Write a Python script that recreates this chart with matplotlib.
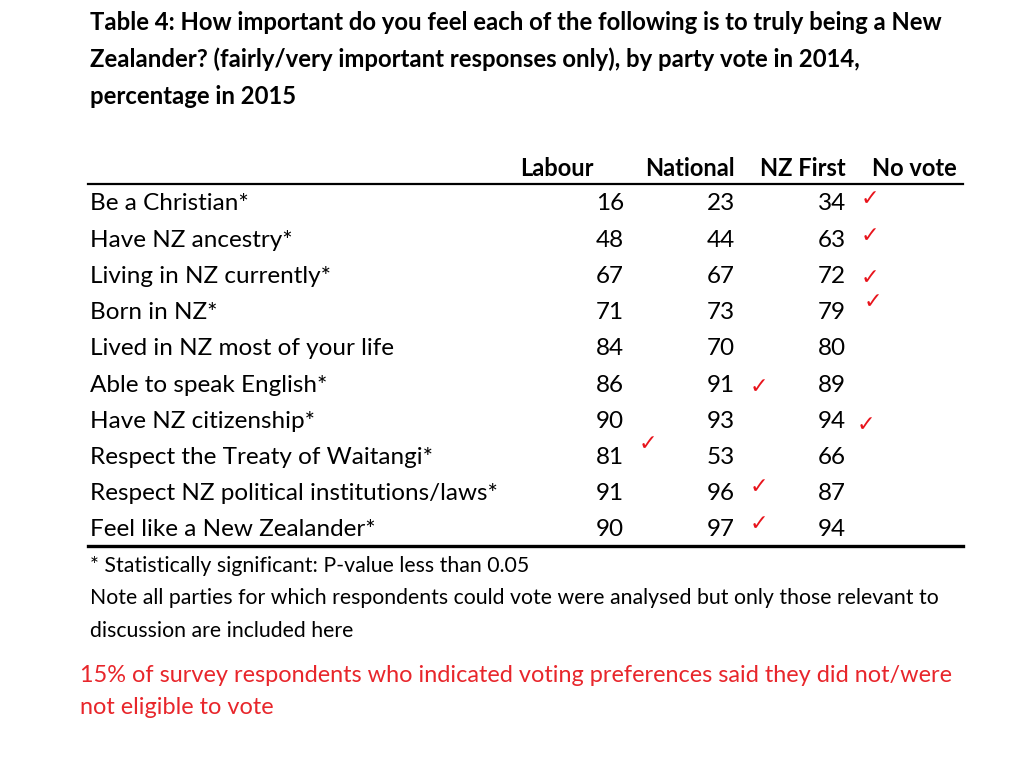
import matplotlib
matplotlib.use("Agg")
import matplotlib.pyplot as plt

plt.rcParams['font.family'] = ['Lato', 'DejaVu Sans']

title_lines = [
    "Table 4: How important do you feel each of the following is to truly being a New",
    "Zealander? (fairly/very important responses only), by party vote in 2014,",
    "percentage in 2015",
]
columns = ["Labour", "National", "NZ First", "No vote"]
items = [
    "Be a Christian*",
    "Have NZ ancestry*",
    "Living in NZ currently*",
    "Born in NZ*",
    "Lived in NZ most of your life",
    "Able to speak English*",
    "Have NZ citizenship*",
    "Respect the Treaty of Waitangi*",
    "Respect NZ political institutions/laws*",
    "Feel like a New Zealander*",
]
labour = [16, 48, 67, 71, 84, 86, 90, 81, 91, 90]
national = [23, 44, 67, 73, 70, 91, 93, 53, 96, 97]
nz_first = [34, 63, 72, 79, 80, 89, 94, 66, 87, 94]
# (row, column) where a red tick is drawn
ticks = [(0, 2), (1, 2), (2, 2), (3, 2), (5, 1), (6, 2), (7, 0), (8, 1), (9, 1)]
footnotes = [
    "* Statistically significant: P-value less than 0.05",
    "Note all parties for which respondents could vote were analysed but only those relevant to",
    "discussion are included here",
]
red_note = [
    "15% of survey respondents who indicated voting preferences said they did not/were",
    "not eligible to vote",
]

fig = plt.figure(figsize=(10.24, 7.68), dpi=100)
ax = fig.add_axes([0, 0, 1, 1])
ax.set_xlim(0, 1024)
ax.set_ylim(768, 0)
ax.axis('off')

# title
for i, line in enumerate(title_lines):
    ax.text(90, 22 + i * 37, line, fontsize=17.2, fontweight='bold', va='center', ha='left')

# header
col_right = [594, 735, 846, 957]
for x, name in zip(col_right, columns):
    ax.text(x, 168, name, fontsize=17, fontweight='bold', va='center', ha='right')
ax.plot([88, 963], [184, 184], color='black', lw=1.6)

# body
num_right = [624, 735, 846]
row0, row_h = 204, 36.2
for i, label in enumerate(items):
    y = row0 + i * row_h
    ax.text(90, y, label, fontsize=17.5, va='center', ha='left')
    for x, vals in zip(num_right, [labour, national, nz_first]):
        ax.text(x, y, str(vals[i]), fontsize=17.5, va='center', ha='right')
ax.plot([88, 963], [546, 546], color='black', lw=2.4)

# ticks: small nudges so they sit where the slide had them
tick_nudge = {2: (0, 2), 3: (3, -11), 6: (-4, 4), 7: (0, -13), 8: (0, -7), 9: (0, -6), 5: (0, 2), 0: (0, -5), 1: (0, -4)}
for r, c in ticks:
    dx, dy = tick_nudge.get(r, (0, 0))
    x = num_right[c] + 24 + dx
    y = row0 + r * row_h + dy
    ax.text(x, y, "\u2713", fontsize=16, fontweight='bold', color='#e8141c',
            va='center', ha='center', family=['DejaVu Sans'])

# footnotes
for i, line in enumerate(footnotes):
    ax.text(90, 566 + i * 32.5, line, fontsize=15.3, va='center', ha='left')

for i, line in enumerate(red_note):
    ax.text(80, 676 + i * 31, line, fontsize=16.9, color='#e8262b', va='center', ha='left')

fig.savefig("out.png", dpi=100)
